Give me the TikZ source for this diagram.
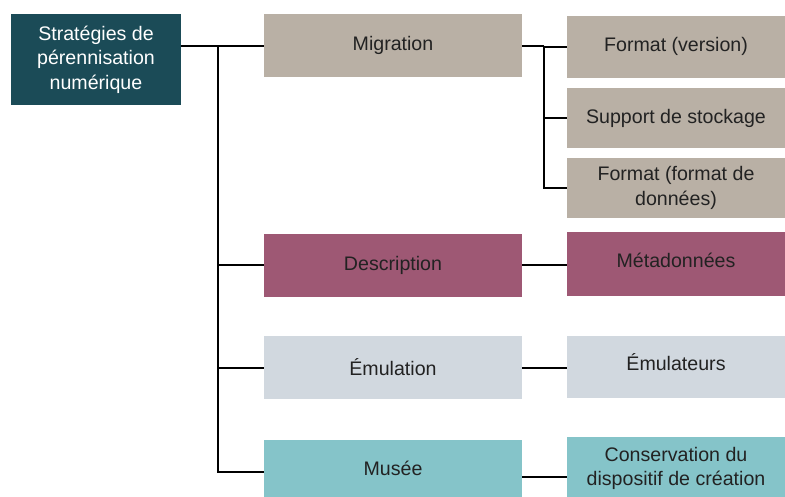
\documentclass[tikz,border=0pt]{standalone}
\usepackage{fontspec}
\setmainfont{Liberation Sans}
\definecolor{rootc}{HTML}{1B4B57}
\definecolor{taupe}{HTML}{B9B0A5}
\definecolor{plum}{HTML}{9E5874}
\definecolor{grayblue}{HTML}{D1D8DF}
\definecolor{lteal}{HTML}{85C4C9}
\definecolor{txt}{HTML}{222222}
\newcommand{\lift}[2]{\raisebox{#1}[\height][\depth]{#2}}
\begin{document}
\begin{tikzpicture}[x=0.75pt,y=-0.75pt,
  box/.style={rectangle, inner sep=0pt, align=center, text=txt,
    font=\fontsize{14.7pt}{18.4pt}\selectfont},
  mid/.style={box, minimum width=193.5pt, minimum height=47.25pt},
  leaf/.style={box, minimum width=163.5pt, minimum height=46.5pt},
  conn/.style={draw=black, line width=1.5pt}]
\useasboundingbox (0,0) rectangle (785,496);
\node[box, fill=rootc, text=white, minimum width=127.5pt, minimum height=68.25pt] (root) at (96,59.5) {Stratégies de\\pérennisation\\numérique};
\node[mid, fill=taupe] (mig) at (393,45.5) {Migration};
\node[leaf, fill=taupe] (fv) at (676,46.5) {Format (version)};
\node[leaf, fill=taupe, minimum height=45pt] (ss) at (676,118) {Support de stockage};
\node[leaf, fill=taupe, minimum height=45pt] (fd) at (676,188) {Format (format de\\données)};
\node[mid, fill=plum] (desc) at (393,265) {Description};
\node[leaf, fill=plum, minimum height=48pt] (meta) at (676,264) {\lift{3pt}{Métadonnées}};
\node[mid, fill=grayblue] (emu) at (393,367.5) {Émulation};
\node[leaf, fill=grayblue] (emus) at (676,367) {\lift{3.5pt}{Émulateurs}};
\node[mid, fill=lteal] (musee) at (393,471.5) {\lift{2.5pt}{Musée}};
\node[leaf, fill=lteal, minimum height=47.25pt] (cons) at (676,468.5) {Conservation du\\dispositif de création};
\coordinate (trunk) at (218,0);
\coordinate (sub) at (544,0);
\draw[conn] (root.east |- mig.west) -- (mig.west);
\draw[conn] (trunk |- mig.west) -- (trunk |- musee.west) -- (musee.west);
\draw[conn] (trunk |- desc.west) -- (desc.west);
\draw[conn] (trunk |- emu.west) -- (emu.west);
\draw[conn] (mig.east) -- (mig.east -| sub);
\draw[conn] (sub |- mig.east) -- (sub |- fd.west) -- (fd.west);
\draw[conn] (sub |- fv.west) -- (fv.west);
\draw[conn] (sub |- ss.west) -- (ss.west);
\draw[conn] (desc.east) -- (desc.east -| meta.west);
\draw[conn] (emu.east) -- (emu.east -| emus.west);
\draw[conn] ([yshift=-4pt]musee.east) -- ([yshift=-4pt]musee.east -| cons.west);
\end{tikzpicture}
\end{document}
